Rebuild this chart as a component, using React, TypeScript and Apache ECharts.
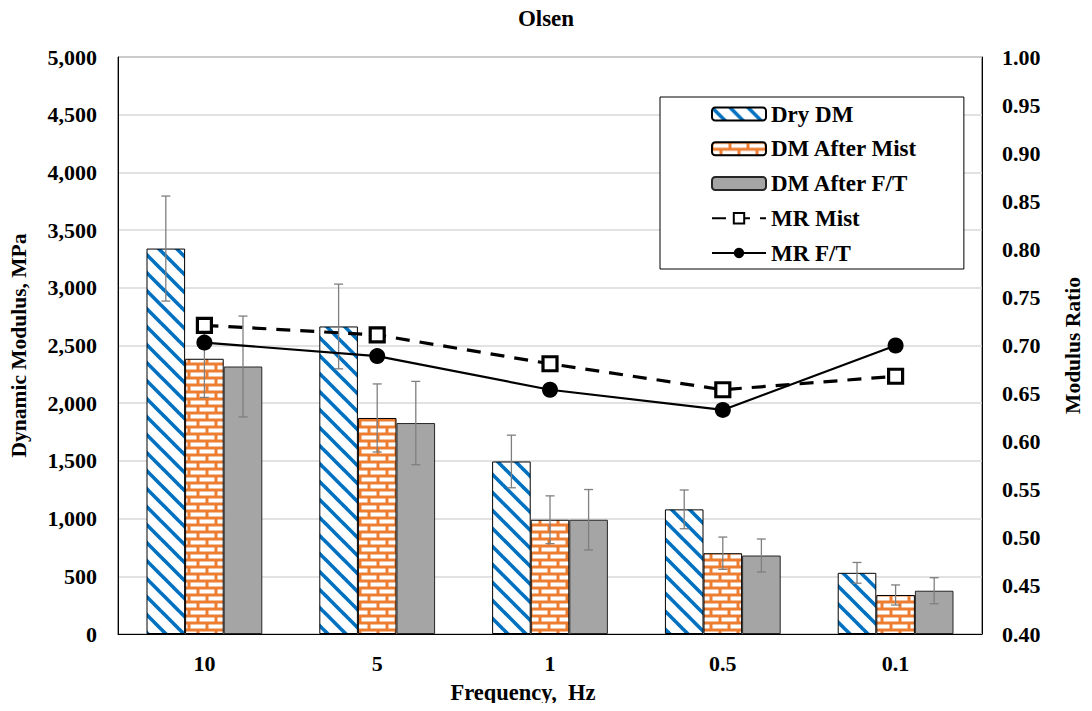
import React, { useEffect, useRef } from "react";
import * as echarts from "echarts";

const categories = ["10", "5", "1", "0.5", "0.1"];
const dryDM = [3340, 2665, 1495, 1080, 530];
const dryErr = [455, 367, 228, 168, 90];
const mistDM = [2385, 1872, 990, 700, 338];
const mistErr = [335, 295, 207, 140, 87];
const ftDM = [2318, 1828, 990, 680, 375];
const ftErr = [437, 361, 262, 143, 113];
const mrMist = [0.721, 0.711, 0.681, 0.654, 0.668];
const mrFT = [0.703, 0.689, 0.654, 0.633, 0.7];

const FONT = "Liberation Serif";
const GAP = 0.33;

function stripeCanvas() {
  const s = 18;
  const c = document.createElement("canvas");
  c.width = s;
  c.height = s;
  const g = c.getContext("2d")!;
  g.fillStyle = "#ffffff";
  g.fillRect(0, 0, s, s);
  g.strokeStyle = "#0070C0";
  g.lineWidth = 3.6;
  for (let k = -1; k <= 1; k++) {
    g.beginPath();
    g.moveTo(-s, -s + k * s);
    g.lineTo(2 * s, 2 * s + k * s);
    g.stroke();
  }
  return c;
}

function brickCanvas() {
  const w = 18;
  const h = 14;
  const c = document.createElement("canvas");
  c.width = w;
  c.height = h;
  const g = c.getContext("2d")!;
  g.fillStyle = "#ED7D31";
  g.fillRect(0, 0, w, h);
  g.fillStyle = "#ffffff";
  g.fillRect(1.5, 1.5, 15, 4);
  g.fillRect(10.5, 8.5, 7.5, 4);
  g.fillRect(0, 8.5, 7.5, 4);
  return c;
}

export default function App() {
  const ref = useRef<HTMLDivElement>(null);
  useEffect(() => {
    if (!ref.current) return;
    const chart = echarts.init(ref.current, null, { renderer: "svg" });
    const stripe = stripeCanvas();
    const brick = brickCanvas();
    const errData: number[][] = [];
    [dryErr, mistErr, ftErr].forEach((arr, s) => {
      const vals = [dryDM, mistDM, ftDM][s];
      arr.forEach((e, i) => errData.push([i, vals[i], e, s]));
    });
    const label = { color: "#000", fontFamily: FONT, fontWeight: "bold" as const, fontSize: 22 };
    chart.setOption({
      animation: false,
      backgroundColor: "#fff",
      title: {
        text: "Olsen",
        left: "center",
        top: 2,
        textStyle: { ...label, fontSize: 23 },
      },
      grid: {
        left: 116,
        right: 103,
        top: 57,
        bottom: 77,
        show: true,
        borderColor: "#404040",
        borderWidth: 1,
      },
      legend: {
        orient: "vertical",
        left: 660,
        top: 97,
        padding: [5.5, 46, 4.5, 51],
        itemWidth: 54,
        itemHeight: 13,
        itemGap: 11.75,
        backgroundColor: "#fff",
        borderColor: "#000",
        borderWidth: 1,
        textStyle: { ...label, fontSize: 23 },
        data: ["Dry DM", "DM After Mist", "DM After F/T", "MR Mist", "MR F/T"],
      },
      xAxis: {
        type: "category",
        data: categories,
        name: "Frequency,  Hz",
        nameLocation: "middle",
        nameGap: 47,
        nameTextStyle: { ...label, fontSize: 22.5, padding: [0, 54, 0, 0] },
        axisLine: { lineStyle: { color: "#000", width: 1 } },
        axisTick: { show: false },
        axisLabel: { ...label, margin: 18 },
      },
      yAxis: [
        {
          type: "value",
          min: 0,
          max: 5000,
          interval: 500,
          name: "Dynamic Modulus, MPa",
          nameLocation: "middle",
          nameGap: 88,
          nameTextStyle: { ...label, fontSize: 21.5 },
          axisLine: { show: true, lineStyle: { color: "#000" } },
          axisTick: { show: false },
          axisLabel: {
            ...label,
            margin: 21,
            formatter: (v: number) => v.toLocaleString("en-US"),
          },
          splitLine: { lineStyle: { color: "#d9d9d9", width: 1.5 } },
        },
        {
          type: "value",
          min: 0.4,
          max: 1.0,
          interval: 0.05,
          name: "Modulus Ratio",
          nameLocation: "middle",
          nameGap: 80,
          nameTextStyle: { ...label, fontSize: 21.5 },
          axisLine: { show: true, lineStyle: { color: "#000" } },
          axisTick: { show: false },
          axisLabel: {
            ...label,
            margin: 20,
            formatter: (v: number) => v.toFixed(2),
          },
          splitLine: { show: false },
        },
      ],
      series: [
        {
          name: "Dry DM",
          type: "bar",
          data: dryDM,
          barGap: "0%",
          barCategoryGap: "33%",
          z: 2,
          itemStyle: {
            color: { image: stripe, repeat: "repeat", imageWidth: 18, imageHeight: 18 },
            borderColor: "#000",
            borderWidth: 1,
          },
        },
        {
          name: "DM After Mist",
          type: "bar",
          data: mistDM,
          barGap: "0%",
          barCategoryGap: "33%",
          z: 2,
          itemStyle: {
            color: { image: brick, repeat: "repeat", imageWidth: 18, imageHeight: 14 },
            borderColor: "#000",
            borderWidth: 1,
          },
        },
        {
          name: "DM After F/T",
          type: "bar",
          data: ftDM,
          barGap: "0%",
          barCategoryGap: "33%",
          z: 2,
          itemStyle: { color: "#A5A5A5", borderColor: "#262626", borderWidth: 1 },
        },
        {
          name: "errors",
          type: "custom",
          data: errData,
          z: 3,
          encode: { x: 0, y: 1 },
          renderItem: (params: any, api: any) => {
            const cat = api.value(0);
            const val = api.value(1);
            const err = api.value(2);
            const s = api.value(3);
            const catW = api.size([1, 0])[0];
            const bw = (catW * (1 - GAP)) / 3;
            const c = api.coord([cat, val]);
            const x = c[0] + (s - 1) * bw;
            const top = api.coord([cat, val + err])[1];
            const bot = api.coord([cat, val - err])[1];
            const hw = 4.5;
            const st = { stroke: "#7f7f7f", lineWidth: 1.3 };
            return {
              type: "group",
              children: [
                { type: "line", shape: { x1: x, y1: top, x2: x, y2: bot }, style: st },
                { type: "line", shape: { x1: x - hw, y1: top, x2: x + hw, y2: top }, style: st },
                { type: "line", shape: { x1: x - hw, y1: bot, x2: x + hw, y2: bot }, style: st },
              ],
            };
          },
        },
        {
          name: "MR Mist",
          type: "line",
          yAxisIndex: 1,
          data: mrMist,
          z: 5,
          symbol: "rect",
          symbolSize: 14,
          lineStyle: { color: "#000", width: 3.2, type: [14, 10] },
          itemStyle: { color: "#fff", borderColor: "#000", borderWidth: 3.2 },
        },
        {
          name: "MR F/T",
          type: "line",
          yAxisIndex: 1,
          data: mrFT,
          z: 5,
          symbol: "circle",
          symbolSize: 16,
          lineStyle: { color: "#000", width: 2.2 },
          itemStyle: { color: "#000", borderColor: "#000", borderWidth: 0 },
        },
      ],
    });
    return () => chart.dispose();
  }, []);
  return <div ref={ref} style={{ width: 1092, height: 711, margin: -8 }} />;
}
